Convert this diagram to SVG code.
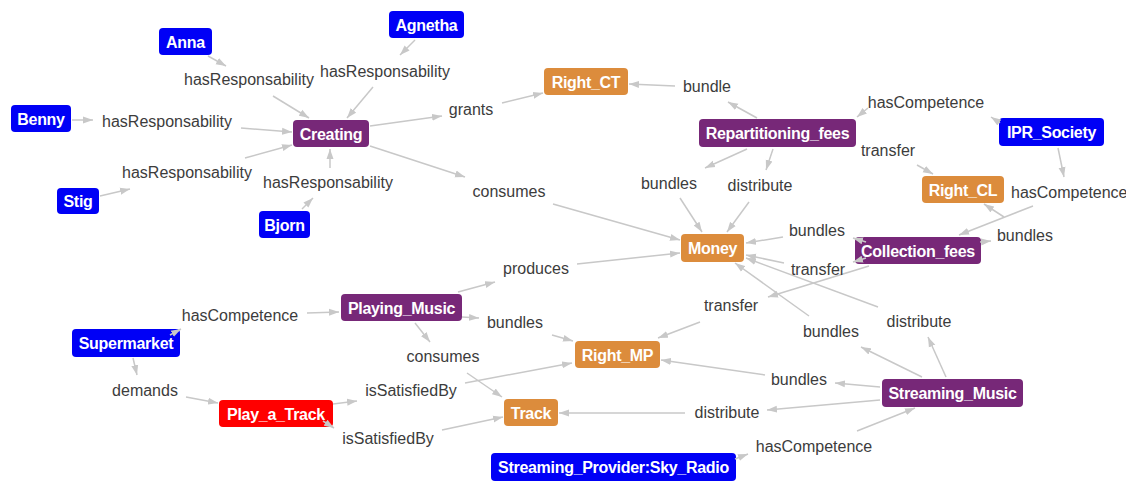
<svg xmlns="http://www.w3.org/2000/svg" width="1126" height="482" viewBox="0 0 1126 482">
  <style>
    .node rect { rx: 4px; ry: 4px; }
    .node text { font-family: "Liberation Sans", Arial, sans-serif; font-weight: bold; font-size: 16px; letter-spacing: -0.3px; fill: #ffffff; text-anchor: middle; }
    .agent rect { fill: #0000f6; }
    .activity rect { fill: #772878; }
    .resource rect { fill: #dc8c3c; }
    .goal rect { fill: #ff0000; }
    .edges line { stroke: #c8c8c8; stroke-width: 1.5; marker-end: url(#arrow); }
    .edge-labels text { font-family: "Liberation Sans", Arial, sans-serif; font-size: 16px; fill: #3c3c3c; text-anchor: middle; }
  </style>
  <defs>
    <marker id="arrow" markerUnits="userSpaceOnUse" markerWidth="10" markerHeight="8" refX="10" refY="4" orient="auto">
      <path d="M0,0.5 L10,4 L0,7.5 Z" fill="#c8c8c8"/>
    </marker>
  </defs>
  <rect width="1126" height="482" fill="#ffffff"/>

  <!-- nodes -->
  <g id="node-anna" class="node agent"><rect x="159" y="28" width="53" height="27"/><text x="185.5" y="47.5">Anna</text></g>
  <g id="node-agnetha" class="node agent"><rect x="389" y="11" width="75" height="27"/><text x="426.5" y="30.5">Agnetha</text></g>
  <g id="node-benny" class="node agent"><rect x="11" y="105" width="60" height="27"/><text x="41" y="124.5">Benny</text></g>
  <g id="node-stig" class="node agent"><rect x="57" y="188" width="42" height="26"/><text x="78" y="207">Stig</text></g>
  <g id="node-bjorn" class="node agent"><rect x="259" y="211" width="51" height="27"/><text x="284.5" y="230.5">Bjorn</text></g>
  <g id="node-creating" class="node activity"><rect x="293" y="120" width="76" height="27"/><text x="331" y="139.5">Creating</text></g>
  <g id="node-right-ct" class="node resource"><rect x="544" y="68" width="84" height="27"/><text x="586" y="87.5">Right_CT</text></g>
  <g id="node-repartitioning-fees" class="node activity"><rect x="699" y="119" width="157" height="28"/><text x="777.5" y="139">Repartitioning_fees</text></g>
  <g id="node-ipr-society" class="node agent"><rect x="999" y="118" width="105" height="28"/><text x="1051.5" y="138">IPR_Society</text></g>
  <g id="node-right-cl" class="node resource"><rect x="922" y="176" width="82" height="27"/><text x="963" y="195.5">Right_CL</text></g>
  <g id="node-collection-fees" class="node activity"><rect x="855" y="237" width="126" height="27"/><text x="918" y="256.5">Collection_fees</text></g>
  <g id="node-money" class="node resource"><rect x="681" y="234" width="63" height="28"/><text x="712.5" y="254">Money</text></g>
  <g id="node-playing-music" class="node activity"><rect x="341" y="294" width="121" height="27"/><text x="401.5" y="313.5">Playing_Music</text></g>
  <g id="node-supermarket" class="node agent"><rect x="72" y="329" width="108" height="28"/><text x="126" y="349">Supermarket</text></g>
  <g id="node-play-a-track" class="node goal"><rect x="219" y="400" width="114" height="27"/><text x="276" y="419.5">Play_a_Track</text></g>
  <g id="node-right-mp" class="node resource"><rect x="575" y="341" width="85" height="27"/><text x="617.5" y="360.5">Right_MP</text></g>
  <g id="node-track" class="node resource"><rect x="504" y="399" width="54" height="27"/><text x="531" y="418.5">Track</text></g>
  <g id="node-sky-radio" class="node agent"><rect x="491" y="453" width="245" height="28"/><text x="613.5" y="473">Streaming_Provider:Sky_Radio</text></g>
  <g id="node-streaming-music" class="node activity"><rect x="882" y="379" width="141" height="28"/><text x="952.5" y="399">Streaming_Music</text></g>

  <!-- connectors: each relation runs source -> label -> target -->
  <g id="connectors">
    <g class="edges">
      <!-- hasResponsability -> Creating -->
      <line x1="208" y1="56" x2="226" y2="66"/>
      <line x1="273" y1="96" x2="309" y2="118"/>
      <line x1="415" y1="40" x2="400" y2="55"/>
      <line x1="373" y1="87" x2="347" y2="118"/>
      <line x1="72" y1="120" x2="93" y2="120"/>
      <line x1="241" y1="128" x2="292" y2="132"/>
      <line x1="100" y1="196" x2="130" y2="189"/>
      <line x1="245" y1="158" x2="292" y2="145"/>
      <line x1="302" y1="209" x2="313" y2="198"/>
      <line x1="330" y1="168" x2="330" y2="149"/>
      <!-- Creating -->
      <line x1="370" y1="126" x2="442" y2="116"/>
      <line x1="502" y1="103" x2="543" y2="93"/>
      <line x1="370" y1="146" x2="465" y2="177"/>
      <line x1="553" y1="204" x2="680" y2="240"/>
      <!-- Repartitioning_fees -->
      <line x1="757" y1="118" x2="728" y2="102"/>
      <line x1="675" y1="86" x2="629" y2="84"/>
      <line x1="747" y1="149" x2="705" y2="168"/>
      <line x1="680" y1="198" x2="702" y2="232"/>
      <line x1="773" y1="149" x2="766" y2="170"/>
      <line x1="749" y1="202" x2="727" y2="232"/>
      <line x1="917" y1="165" x2="933" y2="174"/>
      <!-- IPR_Society -->
      <line x1="1000" y1="123" x2="991" y2="117"/>
      <line x1="868" y1="108" x2="857" y2="117"/>
      <line x1="1058" y1="148" x2="1064" y2="177"/>
      <line x1="1033" y1="206" x2="959" y2="235"/>
      <!-- Collection_fees -->
      <line x1="980" y1="242" x2="991" y2="241"/>
      <line x1="1004" y1="217" x2="984" y2="204"/>
      <line x1="866" y1="242" x2="853" y2="238"/>
      <line x1="783" y1="237" x2="746" y2="243"/>
      <line x1="866" y1="258" x2="853" y2="262"/>
      <line x1="784" y1="263" x2="746" y2="255"/>
      <line x1="869" y1="266" x2="768" y2="297"/>
      <line x1="700" y1="322" x2="658" y2="338"/>
      <!-- Streaming_Music -->
      <line x1="922" y1="377" x2="861" y2="347"/>
      <line x1="809" y1="316" x2="735" y2="263"/>
      <line x1="946" y1="377" x2="928" y2="337"/>
      <line x1="878" y1="307" x2="746" y2="258"/>
      <line x1="880" y1="387" x2="835" y2="383"/>
      <line x1="765" y1="375" x2="661" y2="360"/>
      <line x1="880" y1="400" x2="767" y2="410"/>
      <line x1="685" y1="413" x2="559" y2="413"/>
      <!-- Streaming_Provider:Sky_Radio -->
      <line x1="735" y1="459" x2="748" y2="454"/>
      <line x1="857" y1="431" x2="915" y2="408"/>
      <!-- Supermarket -->
      <line x1="170" y1="335" x2="181" y2="329"/>
      <line x1="307" y1="313" x2="339" y2="312"/>
      <line x1="133" y1="358" x2="137" y2="375"/>
      <line x1="186" y1="397" x2="218" y2="403"/>
      <!-- Playing_Music -->
      <line x1="458" y1="292" x2="495" y2="282"/>
      <line x1="577" y1="264" x2="680" y2="253"/>
      <line x1="462" y1="317" x2="479" y2="318"/>
      <line x1="552" y1="335" x2="573" y2="341"/>
      <line x1="415" y1="323" x2="430" y2="342"/>
      <line x1="467" y1="373" x2="502" y2="397"/>
      <!-- Play_a_Track -->
      <line x1="333" y1="404" x2="357" y2="401"/>
      <line x1="465" y1="383" x2="572" y2="363"/>
      <line x1="323" y1="421" x2="334" y2="428"/>
      <line x1="442" y1="430" x2="503" y2="417"/>
    </g>
    <g class="edge-labels">
      <text x="249" y="85">hasResponsability</text>
      <text x="385" y="77">hasResponsability</text>
      <text x="167" y="127">hasResponsability</text>
      <text x="187" y="178">hasResponsability</text>
      <text x="328" y="188">hasResponsability</text>
      <text x="471" y="115">grants</text>
      <text x="509" y="197">consumes</text>
      <text x="707" y="92">bundle</text>
      <text x="926" y="108">hasCompetence</text>
      <text x="888" y="156">transfer</text>
      <text x="1011" y="198" style="text-anchor:start">hasCompetence</text>
      <text x="1025" y="241">bundles</text>
      <text x="669" y="189">bundles</text>
      <text x="760" y="191">distribute</text>
      <text x="817" y="236">bundles</text>
      <text x="818" y="275">transfer</text>
      <text x="731" y="311">transfer</text>
      <text x="831" y="337">bundles</text>
      <text x="919" y="327">distribute</text>
      <text x="799" y="385">bundles</text>
      <text x="727" y="418">distribute</text>
      <text x="814" y="452">hasCompetence</text>
      <text x="240" y="321">hasCompetence</text>
      <text x="145" y="396">demands</text>
      <text x="536" y="274">produces</text>
      <text x="515" y="328">bundles</text>
      <text x="443" y="362">consumes</text>
      <text x="411" y="396">isSatisfiedBy</text>
      <text x="388" y="444">isSatisfiedBy</text>
    </g>
  </g>
</svg>
